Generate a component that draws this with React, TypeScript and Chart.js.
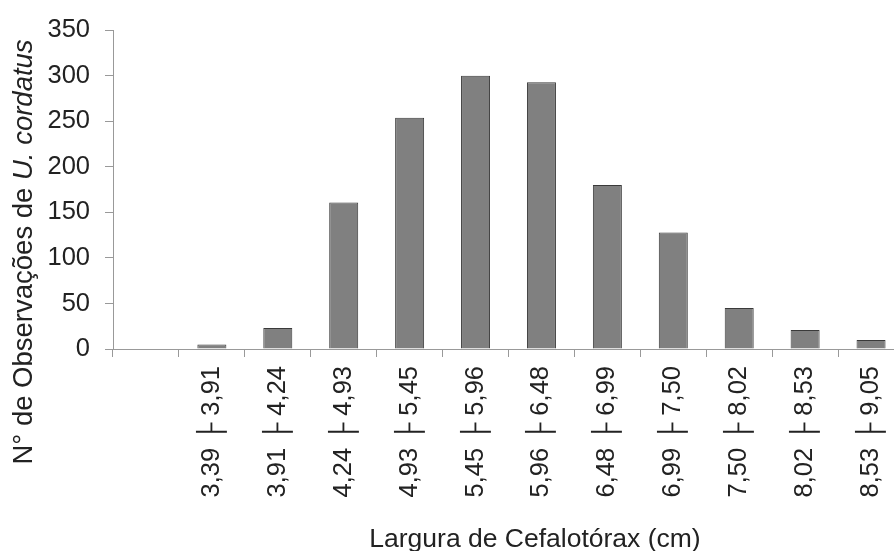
import React, { useEffect, useRef } from "react";
import { Chart, registerables } from "chart.js";

Chart.register(...registerables);

const classStart = ["", "3,39", "3,91", "4,24", "4,93", "5,45", "5,96", "6,48", "6,99", "7,50", "8,02", "8,53"];
const classEnd = ["", "3,91", "4,24", "4,93", "5,45", "5,96", "6,48", "6,99", "7,50", "8,02", "8,53", "9,05"];
const counts = [null, 5, 23, 161, 254, 300, 293, 180, 128, 45, 21, 10];
const yMin = 0;
const yMax = 350;
const yStep = 50;
const xTitle = "Largura de Cefalotórax (cm)";
const yTitleNormal = "N° de Observações de ";
const yTitleItalic = "U. cordatus";

const FONT = "'Liberation Sans', Arial, Helvetica, sans-serif";

const titlesPlugin = {
  id: "titles",
  afterDraw(chart: any) {
    const ctx = chart.ctx;
    ctx.save();
    ctx.fillStyle = "#222";
    // x-axis title
    ctx.font = `26.5px ${FONT}`;
    ctx.textAlign = "center";
    ctx.textBaseline = "alphabetic";
    ctx.fillText(xTitle, 535, 547);
    // y-axis title (mixed styles)
    const ySize = 27.5;
    ctx.font = `${ySize}px ${FONT}`;
    const w1 = ctx.measureText(yTitleNormal).width;
    ctx.font = `italic ${ySize}px ${FONT}`;
    const w2 = ctx.measureText(yTitleItalic).width;
    const total = w1 + w2;
    const centerY = 252;
    ctx.translate(32, centerY + total / 2);
    ctx.rotate(-Math.PI / 2);
    ctx.textAlign = "left";
    ctx.font = `${ySize}px ${FONT}`;
    ctx.fillText(yTitleNormal, 0, 0);
    ctx.font = `italic ${ySize}px ${FONT}`;
    ctx.fillText(yTitleItalic, w1, 0);
    ctx.restore();
  },
};

export default function App() {
  const canvasRef = useRef<HTMLCanvasElement | null>(null);

  useEffect(() => {
    const canvas = canvasRef.current;
    if (!canvas) return;
    const labels = classStart.map((s, i) => (s ? `${s} ├ ${classEnd[i]}` : ""));
    const chart = new Chart(canvas, {
      type: "bar",
      data: {
        labels,
        datasets: [
          {
            data: counts as any,
            backgroundColor: "#808080",
            borderColor: "#3a3a3a",
            borderWidth: 1,
            barPercentage: 0.44,
            categoryPercentage: 1,
          },
        ],
      },
      options: {
        responsive: false,
        maintainAspectRatio: false,
        animation: false,
        devicePixelRatio: 1,
        layout: { padding: { left: 0, top: 27, right: 16, bottom: 0 } },
        plugins: {
          legend: { display: false },
          tooltip: { enabled: false },
          title: { display: false },
        },
        scales: {
          x: {
            grid: {
              offset: true,
              drawOnChartArea: false,
              drawTicks: true,
              tickLength: 8,
              color: "#999",
            },
            border: { color: "#999", width: 1 },
            ticks: {
              autoSkip: false,
              maxRotation: 90,
              minRotation: 90,
              padding: 9,
              color: "#222",
              font: { family: FONT, size: 25.5 },
            },
            afterFit(scale: any) {
              scale.height = 202;
            },
          },
          y: {
            min: yMin,
            max: yMax,
            grid: {
              drawOnChartArea: false,
              drawTicks: true,
              tickLength: 8,
              color: "#999",
            },
            border: { color: "#999", width: 1 },
            ticks: {
              stepSize: yStep,
              padding: 15,
              color: "#222",
              font: { family: FONT, size: 25.5 },
            },
            afterFit(scale: any) {
              scale.width = 113;
            },
          },
        },
      },
      plugins: [titlesPlugin],
    });
    return () => chart.destroy();
  }, []);

  return (
    <div
      style={{
        position: "fixed",
        left: 0,
        top: 0,
        width: 894,
        height: 551,
        overflow: "hidden",
        background: "#fff",
      }}
    >
      <canvas ref={canvasRef} width={920} height={551} style={{ display: "block", width: 920, height: 551 }} />
    </div>
  );
}
